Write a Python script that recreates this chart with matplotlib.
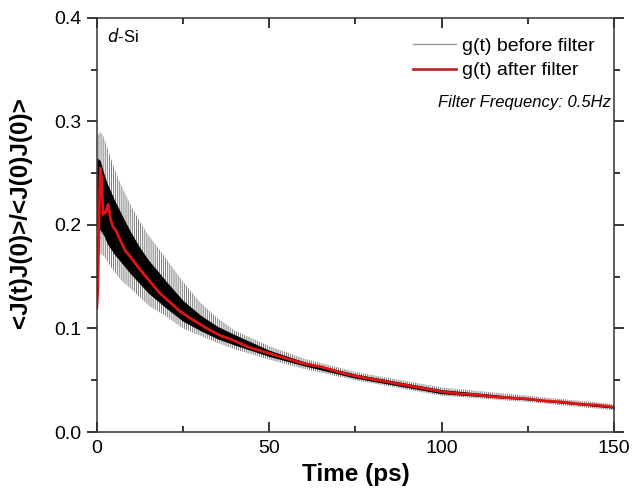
import matplotlib
matplotlib.use("Agg")
import matplotlib.pyplot as plt
from matplotlib.lines import Line2D
from matplotlib.ticker import MultipleLocator, FormatStrFormatter

plt.rcParams['font.family'] = ['Liberation Sans', 'DejaVu Sans']
plt.rcParams['hatch.linewidth'] = 0.6

# g(t) after filter (red curve)
red_t = [0, 0.3, 0.6, 1.0, 1.4, 1.8, 2.5, 3.3, 4.0, 4.7, 5.5, 6.7, 8.1, 10, 12.5,
         15, 18.3, 21, 24, 27, 30, 33, 36, 40, 44, 50, 55, 60, 65, 70, 75, 80,
         85, 90, 95, 100, 105, 110, 115, 120, 125, 130, 135, 140, 145, 150]
red_v = [0.12, 0.14, 0.20, 0.255, 0.245, 0.21, 0.212, 0.220, 0.205, 0.198, 0.195,
         0.186, 0.176, 0.168, 0.157, 0.147, 0.134, 0.126, 0.117, 0.110, 0.104,
         0.098, 0.093, 0.088, 0.082, 0.076, 0.071, 0.066, 0.063, 0.058, 0.054,
         0.051, 0.048, 0.045, 0.042, 0.039, 0.037, 0.036, 0.034, 0.033, 0.032,
         0.030, 0.029, 0.027, 0.026, 0.024]

# g(t) before filter: noisy trace, given as its envelope (spike tips and dense core)
env_t = [0, 1, 2, 3, 5, 7.5, 10, 12.5, 15, 20, 25, 30, 35, 40, 50, 60, 75, 100, 125, 150]
outer_hi = [0.285, 0.29, 0.285, 0.275, 0.255, 0.235, 0.218, 0.203, 0.19, 0.168, 0.145,
            0.125, 0.110, 0.098, 0.083, 0.071, 0.058, 0.043, 0.035, 0.027]
outer_lo = [0.18, 0.172, 0.17, 0.165, 0.155, 0.145, 0.138, 0.130, 0.122, 0.112, 0.100,
            0.093, 0.086, 0.080, 0.070, 0.061, 0.050, 0.035, 0.029, 0.021]
inner_hi = [0.265, 0.262, 0.25, 0.24, 0.225, 0.208, 0.192, 0.178, 0.166, 0.146, 0.127,
            0.113, 0.102, 0.094, 0.079, 0.068, 0.056, 0.041, 0.033, 0.025]
inner_lo = [0.20, 0.195, 0.19, 0.182, 0.172, 0.162, 0.152, 0.143, 0.134, 0.120, 0.107,
            0.098, 0.090, 0.084, 0.073, 0.064, 0.052, 0.037, 0.031, 0.023]

fig = plt.figure(figsize=(6.33, 4.96), dpi=100)
ax = fig.add_axes([0.153, 0.129, 0.817, 0.835])

# spikes as vertical hatching, dense core solid
ax.fill_between(env_t, outer_lo, outer_hi, facecolor='none', edgecolor='0.4',
                hatch='||||||||', lw=0)
ax.fill_between(env_t, inner_lo, inner_hi, color='black', lw=0)
ax.plot(red_t, red_v, color='#e01414', lw=2.0)

ax.set_xlim(0, 150)
ax.set_ylim(0, 0.4)
ax.xaxis.set_major_locator(MultipleLocator(50))
ax.xaxis.set_minor_locator(MultipleLocator(25))
ax.yaxis.set_major_locator(MultipleLocator(0.1))
ax.yaxis.set_minor_locator(MultipleLocator(0.05))
ax.yaxis.set_major_formatter(FormatStrFormatter('%.1f'))
ax.tick_params(axis='x', which='both', direction='in', top=True, labelsize=14, pad=6)
ax.tick_params(axis='y', which='both', direction='out', labelsize=14, pad=4)
ax.tick_params(axis='y', which='both', right=True)
ax.tick_params(which='major', length=7, width=1.1)
ax.tick_params(which='minor', length=4, width=1.1)
for s in ax.spines.values():
    s.set_linewidth(1.1)
    s.set_color('#333333')

ax.set_xlabel('Time (ps)', fontsize=17.5, fontweight='bold', labelpad=4)
ax.set_ylabel('<J(t)J(0)>/<J(0)J(0)>', fontsize=17.5, fontweight='bold')
ax.yaxis.set_label_coords(-0.125, 0.53)

handles = [Line2D([], [], color='0.6', lw=1.0), Line2D([], [], color='#c0282c', lw=2.0)]
ax.legend(handles, ['g(t) before filter', 'g(t) after filter'], loc='upper right',
          frameon=False, fontsize=14, handlelength=2.2, handletextpad=0.3,
          borderaxespad=0.6, labelspacing=0.35)

ax.text(0.02, 0.955, r'$\it{d}$-Si', transform=ax.transAxes, fontsize=12, va='center')
ax.text(0.995, 0.795, 'Filter Frequency: 0.5Hz', transform=ax.transAxes, fontsize=12,
        style='italic', ha='right', va='center')

fig.savefig('out.png', dpi=100)
